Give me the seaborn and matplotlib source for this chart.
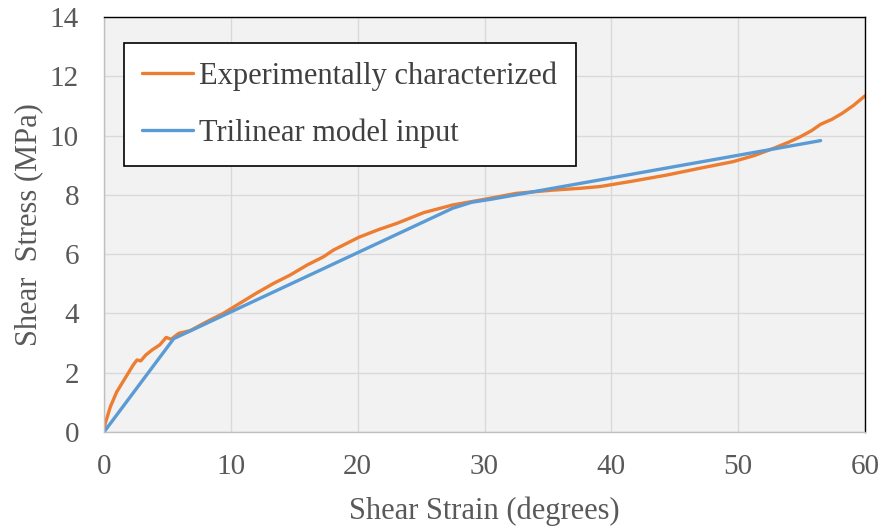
import matplotlib
matplotlib.use("Agg")
import matplotlib.pyplot as plt
import seaborn as sns
import pandas as pd

# Experimentally characterized curve
exp_strain = [0, 0.1, 0.25, 0.5, 1.0, 1.5, 2.0, 2.3, 2.6, 2.9, 3.3, 3.8, 4.4, 4.9, 5.3,
              5.9, 6.8, 8.1, 9.4, 10.7, 12.0, 13.4, 14.7, 16.0, 17.3, 18.1, 20.1,
              21.6, 23.1, 25.2, 27.5, 30.0, 32.5, 35.4, 37.5, 39.1, 41.5, 44.4, 47.0,
              49.6, 51.3, 52.8, 54.0, 54.9, 55.8, 56.5, 57.4, 58.2, 59.1, 60.0]
exp_stress = [0, 0.3, 0.5, 0.85, 1.35, 1.70, 2.05, 2.26, 2.43, 2.40, 2.6, 2.77, 2.94,
              3.19, 3.13, 3.33, 3.42, 3.72, 4.0, 4.34, 4.68, 5.02, 5.30, 5.63, 5.91,
              6.14, 6.57, 6.82, 7.04, 7.40, 7.66, 7.85, 8.05, 8.16, 8.22, 8.28, 8.45,
              8.67, 8.90, 9.12, 9.33, 9.57, 9.78, 9.96, 10.17, 10.38, 10.55, 10.75,
              11.02, 11.34]

# Trilinear model input
tri_strain = [0, 5.5, 27.5, 29.0, 30.5, 56.5]
tri_stress = [0, 3.15, 7.55, 7.75, 7.85, 9.83]

series_names = ["Experimentally characterized", "Trilinear model input"]
series_colors = ["#ED7D31", "#5B9BD5"]

df = pd.concat([
    pd.DataFrame({"strain": exp_strain, "stress": exp_stress, "series": series_names[0]}),
    pd.DataFrame({"strain": tri_strain, "stress": tri_stress, "series": series_names[1]}),
], ignore_index=True)

sns.set_theme(style="white")
plt.rcParams["font.family"] = ["Liberation Serif", "DejaVu Serif"]

fig = plt.figure(figsize=(8.84, 5.31), dpi=100)
ax = fig.add_axes([104 / 884, 1 - 432 / 531, 761 / 884, 415 / 531])
ax.set_facecolor("#F2F2F2")

sns.lineplot(data=df, x="strain", y="stress", hue="series", hue_order=series_names,
             palette=series_colors, linewidth=2.4, sort=False, estimator=None, ax=ax)

ax.set_xlim(0, 60)
ax.set_ylim(0, 14)
ax.set_xticks(range(0, 61, 10))
ax.set_yticks(range(0, 15, 2))
ax.grid(True, color="#D9D9D9", linewidth=1.0)
ax.set_axisbelow(True)

for s in ["top", "right"]:
    ax.spines[s].set_color("black")
    ax.spines[s].set_linewidth(1.0)
for s in ["left", "bottom"]:
    ax.spines[s].set_color("#BFBFBF")
    ax.spines[s].set_linewidth(1.0)

ax.tick_params(axis="both", length=0, labelsize=21, labelcolor="#595959")
ax.tick_params(axis="y", pad=18)
ax.tick_params(axis="x", pad=16)

ax.set_xlabel("Shear Strain (degrees)", fontsize=22, color="#595959", labelpad=12)
ax.set_ylabel("Shear  Stress (MPa)", fontsize=22, color="#595959", labelpad=5)

leg = ax.legend(loc="upper left", bbox_to_anchor=(0.026, 0.937), borderaxespad=0,
                fontsize=22, frameon=True, fancybox=False, framealpha=1,
                edgecolor="black", handlelength=1.67, handletextpad=0.2,
                borderpad=0.6, labelspacing=0.9, title=None)
leg.get_frame().set_linewidth(1.2)
for t in leg.get_texts():
    t.set_color("#404040")

fig.savefig("out.png", dpi=100)
